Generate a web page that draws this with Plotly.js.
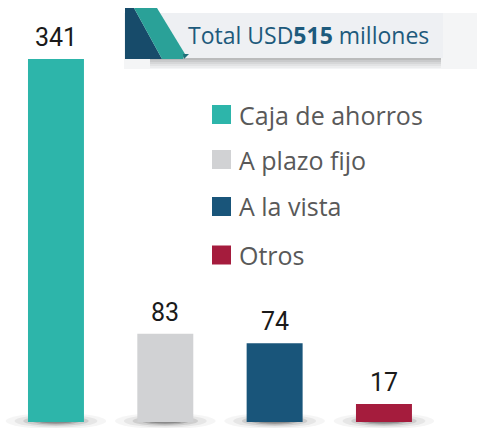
<!DOCTYPE html>
<html>
<head>
<meta charset="utf-8">
<script src="https://cdn.plot.ly/plotly-3.0.1.min.js"></script>
<style>html,body{margin:0;padding:0;background:#fff;}#chart{width:477px;height:428px;}</style>
</head>
<body>
<div id="chart"></div>
<script>
// Data
const categories = ["Caja de ahorros", "A plazo fijo", "A la vista", "Otros"];
const values = [341, 83, 74, 17];
const colors = ["#2db5aa", "#d1d2d4", "#19557a", "#a51c3d"];
const titlePrefix = "Total USD";
const titleTotal = "515";
const titleSuffix = " millones";

const W = 477, H = 428;
const px = x => x / W;
const py = y => 1 - y / H;

const xIdx = categories.map((c, i) => i);

const barTrace = {
  type: "bar",
  x: xIdx,
  y: values,
  width: 0.512,
  marker: { color: colors, line: { width: 0 } },
  hoverinfo: "skip",
  showlegend: false
};

const shapes = [];
// Title box background
shapes.push({ type: "rect", xref: "paper", yref: "paper", x0: px(124), x1: px(477), y0: py(69), y1: py(13), fillcolor: "#f4f5f6", line: { width: 0 }, layer: "below" });
// soft shadow under inner box
[[58, 68, 0.03], [58, 66, 0.04], [58, 64, 0.05], [58, 62, 0.06], [58, 60, 0.07]].forEach(s => {
  shapes.push({ type: "rect", xref: "paper", yref: "paper", x0: px(150), x1: px(441), y0: py(s[1]), y1: py(s[0]), fillcolor: "rgba(0,0,0," + s[2] + ")", line: { width: 0 }, layer: "below" });
});
shapes.push({ type: "rect", xref: "paper", yref: "paper", x0: px(125), x1: px(443), y0: py(58), y1: py(13), fillcolor: "#eef0f3", line: { width: 0 }, layer: "below" });
// dark shape
function pathPx(pts) {
  return "M" + pts.map(p => px(p[0]) + "," + py(p[1])).join("L") + "Z";
}
shapes.push({ type: "path", xref: "paper", yref: "paper", path: pathPx([[125, 8], [134, 8], [162, 59], [125, 59]]), fillcolor: "#174b6a", line: { width: 0 }, layer: "above" });
shapes.push({ type: "path", xref: "paper", yref: "paper", path: pathPx([[134, 8], [157, 8], [185, 54], [183, 59], [162, 59]]), fillcolor: "#2aa198", line: { width: 0 }, layer: "above" });
shapes.push({ type: "path", xref: "paper", yref: "paper", path: pathPx([[183, 54], [189, 54], [184, 59]]), fillcolor: "#1f6f78", line: { width: 0 }, layer: "above" });

// Bar shadows (ellipses) under each bar
xIdx.forEach(i => {
  [[0.46, 7, 0.04], [0.38, 5.5, 0.06], [0.3, 4, 0.1], [0.22, 2.5, 0.16], [0.16, 1.5, 0.2]].forEach(e => {
    shapes.push({ type: "circle", xref: "x", yref: "paper", x0: i - e[0], x1: i + e[0], y0: py(422 + e[1]), y1: py(420 - e[1]), fillcolor: "rgba(0,0,0," + e[2] + ")", line: { width: 0 }, layer: "below" });
  });
});

// Legend squares
const legendY = [114.5, 159.5, 206.5, 255];
categories.forEach((c, i) => {
  shapes.push({ type: "rect", xref: "paper", yref: "paper", x0: px(212), x1: px(231), y0: py(legendY[i] + 9.5), y1: py(legendY[i] - 9.5), fillcolor: colors[i], line: { width: 0 }, layer: "above" });
});

const annotations = [];
// value labels
xIdx.forEach(i => {
  annotations.push({ x: i, y: values[i], xref: "x", yref: "y", text: String(values[i]), showarrow: false, yanchor: "bottom", yshift: 5, font: { family: "'Liberation Sans Narrow', Roboto, sans-serif", size: 25, color: "#1a1a1a" } });
});
// legend texts
categories.forEach((c, i) => {
  annotations.push({ x: px(237), y: py(legendY[i]), xref: "paper", yref: "paper", text: c, showarrow: false, xanchor: "left", yanchor: "middle", font: { family: "'Open Sans', sans-serif", size: 25, color: "#595959" } });
});
// title
annotations.push({ x: px(186), y: py(35), xref: "paper", yref: "paper", text: titlePrefix + "<b>" + titleTotal + "</b>" + titleSuffix, showarrow: false, xanchor: "left", yanchor: "middle", font: { family: "'Open Sans', sans-serif", size: 23, color: "#1d5a7c" } });

const layout = {
  width: W, height: H,
  margin: { l: 0, r: 0, t: 0, b: 0, pad: 0 },
  paper_bgcolor: "#ffffff", plot_bgcolor: "rgba(0,0,0,0)",
  showlegend: false,
  xaxis: { range: [-0.512, 3.851], visible: false, fixedrange: true },
  yaxis: { range: [-5.64, 396.4], visible: false, fixedrange: true },
  shapes: shapes,
  annotations: annotations
};

Plotly.newPlot("chart", [barTrace], layout, { staticPlot: true, displayModeBar: false });
</script>
</body>
</html>
